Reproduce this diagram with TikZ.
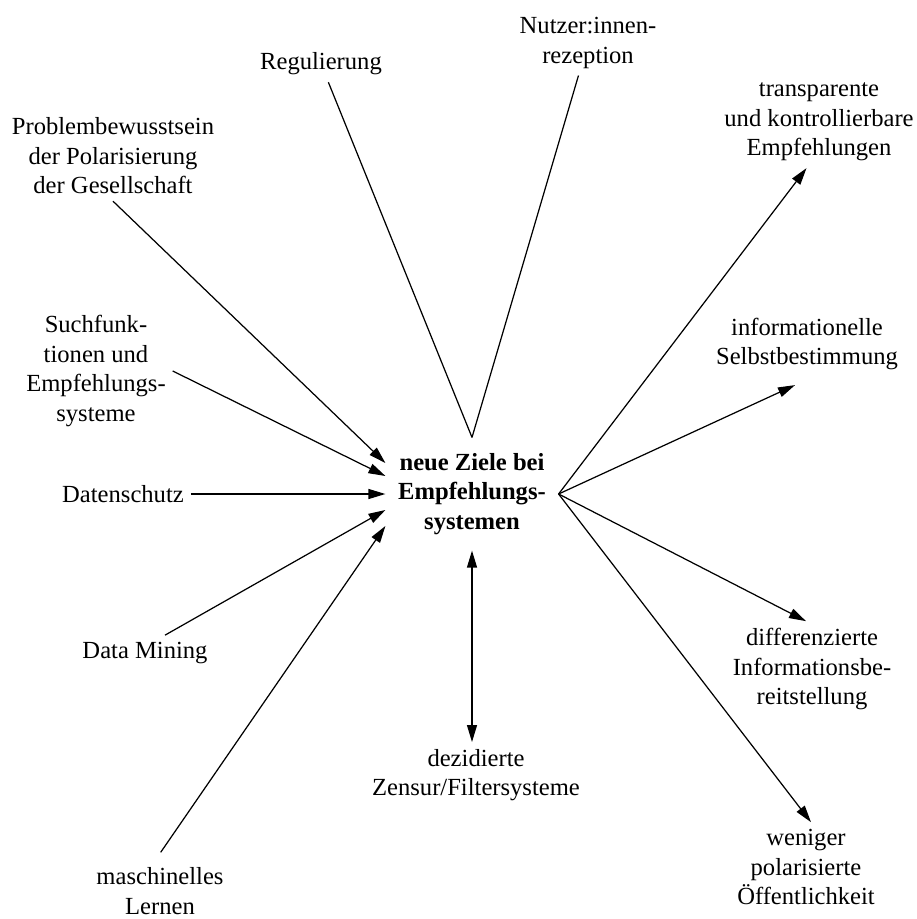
\documentclass[tikz,border=0pt]{standalone}
\usepackage{fontspec}
\setmainfont{Liberation Serif}
\usetikzlibrary{arrows.meta}

\begin{document}
\begin{tikzpicture}[x=0.02cm, y=-0.02cm, line width=0.7pt, >={Triangle[length=0.34cm,width=0.2cm]},
    lnode/.style={align=center, inner sep=1pt, outer sep=3pt, font=\fontsize{14}{16.8}\selectfont},
    gnode/.style={align=center, inner sep=0pt, minimum width=3.44cm, minimum height=2.24cm, font=\fontsize{14}{16.8}\selectfont\bfseries}]
    \useasboundingbox (0,0) rectangle (916,919);
    \node[gnode] (goal) at (472,494) {neue Ziele bei\\Empfehlungs-\\systemen};

    \node[lnode] (reg) at (321,64) {Regulierung};
    \node[lnode] (nutz) at (588,43) {Nutzer:innen-\\rezeption};
    \node[lnode] (prob) at (113,156) {Problembewusstsein\\der Polarisierung\\der Gesellschaft};
    \node[lnode] (such) at (96,371) {Suchfunk-\\tionen und\\Empfehlungs-\\systeme};
    \node[lnode] (daten) at (123,494) {Datenschutz};
    \node[lnode] (mining) at (145,653) {Data Mining};
    \node[lnode] (masch) at (160,891) {maschinelles\\Lernen};
    \node[lnode] (dez) at (476,775) {dezidierte\\Zensur/Filtersysteme};
    \node[lnode] (trans) at (819,122) {transparente\\und kontrollierbare\\Empfehlungen};
    \node[lnode] (info) at (807,344) {informationelle\\Selbstbestimmung};
    \node[lnode] (diff) at (812,669) {differenzierte\\Informationsbe-\\reitstellung};
    \node[lnode] (wen) at (806,867) {weniger\\polarisierte\\Öffentlichkeit};

    \draw (reg) -- (goal.north);
    \draw (nutz) -- (goal.north);

    \draw[->] (prob.south) -- ([yshift=0.62cm]goal.west);
    \draw[->] (such.east) -- ([yshift=0.36cm]goal.west);
    \draw[->] (daten.east) -- (goal.west);
    \draw[->] ([xshift=0.4cm]mining.north) -- ([yshift=-0.32cm]goal.west);
    \draw[->, shorten <=0.2cm] ([xshift=-0.1cm]masch.north) -- ([yshift=-0.64cm]goal.west);

    \draw[->] (goal.east) -- ([xshift=-0.25cm]trans.south);
    \draw[->] (goal.east) -- ([xshift=-0.24cm,yshift=-0.16cm]info.south);
    \draw[->] (goal.east) -- ([xshift=-0.12cm]diff.north);
    \draw[->] (goal.east) -- ([xshift=0.1cm]wen.north);

    \draw[<->] (goal.south) -- (goal.south |- dez.north);
\end{tikzpicture}
\end{document}
